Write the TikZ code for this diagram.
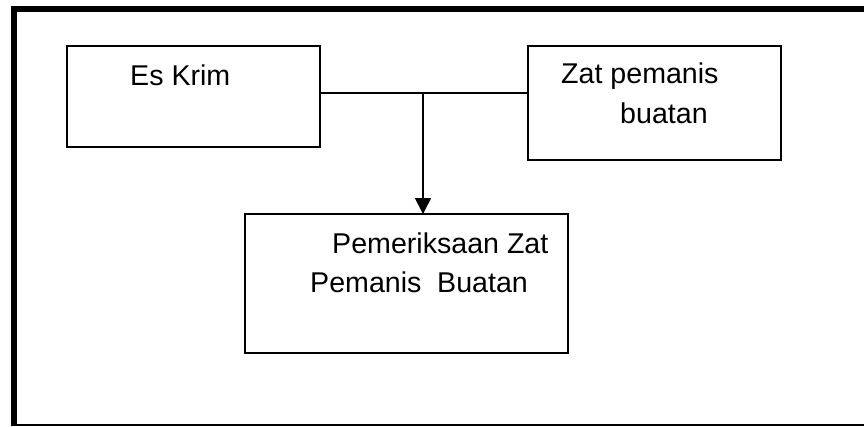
\documentclass[tikz,border=0pt]{standalone}
\usepackage{fontspec}
\setmainfont{Liberation Sans}
\usetikzlibrary{arrows.meta}
\begin{document}
\begin{tikzpicture}[x=1pt,y=-1pt,
  box/.style={draw,line width=1.6pt,rectangle,anchor=north west,inner sep=0pt,outer sep=0pt},
  lbl/.style={anchor=base west,inner sep=0pt,font=\fontsize{28.6}{40}\selectfont},
  conn/.style={line width=1.6pt}]
\useasboundingbox (0,0) rectangle (864,426);
% outer frame
\draw[line width=6pt] (14,426) -- (14,9) -- (864,9);
\draw[line width=2pt] (14,425) -- (864,425);
% boxes
\node[box,minimum width=253pt,minimum height=101pt] (esk) at (67,46) {};
\node[box,minimum width=253pt,minimum height=114pt] (zat) at (528,46) {};
\node[box,minimum width=323pt,minimum height=139pt] (pem) at (245,214) {};
% texts
\node[lbl] (t1) at (130,85) {Es Krim};
\node[lbl] (t2) at (561,83) {Zat pemanis};
\node[lbl] (t3) at (620,123) {buatan};
\node[lbl] (t4) at (332,253) {Pemeriksaan Zat};
\node[lbl] (t5) at (310,292) {Pemanis\hspace{0.55em}Buatan};
% connectors
\coordinate (j) at (423,93);
\draw[conn] (esk.east |- j) -- (zat.west |- j);
\draw[conn,-{Triangle[length=16pt,width=16pt]}] (j) -- (j |- pem.north);
\end{tikzpicture}
\end{document}
